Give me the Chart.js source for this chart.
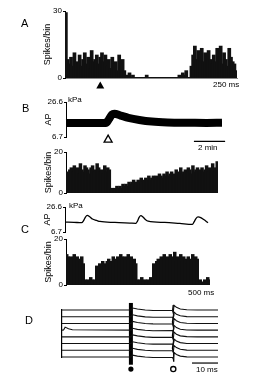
<!DOCTYPE html>
<html><head><meta charset="utf-8">
<script src="https://cdn.jsdelivr.net/npm/chart.js@4/dist/chart.umd.min.js"></script>
<style>
html,body{margin:0;padding:0;background:#fff;}
#wrap{position:relative;width:254px;height:378px;overflow:hidden;font-family:"Liberation Sans",Arial,sans-serif;color:#000;background:#fff;}
canvas{position:absolute;left:0;}
.t{position:absolute;font-size:8px;line-height:1;white-space:nowrap;}
.p{position:absolute;font-size:11px;line-height:1;}
</style></head><body>
<div id="wrap">
<canvas id="cA" width="254" height="95" style="top:0px"></canvas>
<canvas id="cBap" width="254" height="58" style="top:92px"></canvas>
<canvas id="cBh" width="254" height="58" style="top:142px"></canvas>
<canvas id="cCap" width="254" height="42" style="top:197px"></canvas>
<canvas id="cCh" width="254" height="63" style="top:229px"></canvas>
<canvas id="cD" width="254" height="81" style="top:297px"></canvas>
<div class="p" style="left:21px;top:18px">A</div>
<div class="p" style="left:22px;top:103px">B</div>
<div class="p" style="left:21px;top:224px">C</div>
<div class="p" style="left:25px;top:315px">D</div>
<div class="t" style="left:213px;top:81px">250 ms</div>
<div class="t" style="left:68px;top:96px">kPa</div>
<div class="t" style="left:198px;top:144px">2 min</div>
<div class="t" style="left:69px;top:202px">kPa</div>
<div class="t" style="left:188px;top:289px">500 ms</div>
<div class="t" style="left:196px;top:366px">10 ms</div>
</div>
<script>
// ---------- data ----------
// Panel A: spikes per bin (250 ms sweep)
const binsA = [29,8,6,9,5,11,7,6,10,5,8,11,6,9,4,12,7,8,10,6,9,11,7,10,5,8,4,9,6,7,3,10,5,8,3,
  0,1,2,0,1,0,0,0,0,0,
  0,0,1,0,0,0,0,0,0,0,
  0,0,0,0,0,0,0,0,0,0,
  0,1,0,2,1,3,0,0,
  5,10,14,8,12,10,13,7,11,9,12,8,6,10,7,13,9,14,6,11,8,5,13,9,7,6,3];
const ticksA = [0, 30];
const stimBinA = 20;            // filled triangle
// Panel B: arterial pressure (kPa) vs time (min)
const timeB = [0, 1, 2, 2.55, 2.75, 2.95, 3.1, 3.5, 4, 4.7, 5.5, 6.5, 8, 9, 10];
const apB   = [14.6, 14.7, 14.6, 14.6, 16.8, 19.5, 19.9, 18.9, 17.6, 16.4, 15.5, 15.0, 14.8, 14.7, 14.8];
const ticksAP = [6.7, 26.6];
const stimTimeB = 2.7;          // open triangle
const scaleBarB = [8.2, 10.2];  // 2 min
// Panel B: spikes per bin
const binsB = [10,9,11,12,10,13,11,12,9,14,11,10,13,12,11,9,12,13,10,11,14,12,10,11,9,13,10,12,11,
  1,2,1,2,3,2,3,2,4,3,
  4,3,5,4,5,6,4,5,6,5,
  7,5,6,7,6,8,6,7,8,7,
  8,7,9,8,7,9,8,10,8,9,
  10,8,9,11,9,10,12,9,10,11,
  10,12,11,9,13,10,11,12,10,11,
  12,10,11,13,10,12,11,14,10,12,15];
const ticksSpikes = [0, 20];
// Panel C: arterial pressure (kPa) vs time (ms)
const timeC = [0, 90, 167, 185, 205, 223, 245, 275, 317, 350, 500, 650, 710, 725, 743, 760, 782, 805, 833, 1000, 1150, 1277, 1292, 1312, 1333, 1360, 1390, 1433];
const apC   = [14.6, 14.4, 14.1, 15.6, 18.6, 19.9, 19.0, 17.0, 15.9, 15.1, 14.3, 13.8, 13.6, 15.2, 18.4, 19.7, 18.6, 16.7, 15.3, 14.3, 13.5, 12.8, 14.5, 17.4, 18.7, 18.2, 16.6, 14.1];
// Panel C: spikes per bin
const binsC = [13,12,10,12,11,13,10,12,11,10,12,9,
  2,1,2,1,3,2,1,2,
  8,7,9,8,10,9,8,10,11,9,10,12,11,10,12,11,13,12,11,12,10,13,11,12,10,11,9,
  2,1,2,3,1,2,1,2,1,3,2,
  9,8,10,11,9,12,10,13,11,12,10,13,11,12,14,10,12,11,13,10,12,11,9,12,10,11,13,10,12,11,
  1,2,1,1,2,1,3,2];
// Panel D: 8 superimposed sweeps (time in ms, offset trace units)
const timeD = [0, 0.6, 1.2, 2.5, 4, 26.5, 27.2, 29, 32, 35, 42.5, 42.8, 43.1, 44, 45.5, 48, 52, 60];
const sweep1 = [7,7,7,7,7,7,7.3,7.15,7,6.93,6.92,6.7,7.7,7.4,7.15,7.03,7,7];
const sweep2 = [6,6,6,6,6,6,6.28,6.13,5.98,5.92,5.92,5.7,6.68,6.38,6.14,6.02,6,6];
const sweep3 = [5,5,5,5,5,5,5.3,5.14,5,4.93,4.92,4.7,5.72,5.4,5.15,5.03,5,5];
const sweep4 = [4,4.02,4.45,4.2,4.05,4,4.28,4.12,3.98,3.92,3.93,3.7,4.7,4.38,4.13,4.02,4,4];
const sweep5 = [3,3,3,3,3,3,3.3,3.15,3,2.93,2.92,2.7,3.72,3.4,3.15,3.03,3,3];
const sweep6 = [2,2,2,2,2,2,2.27,2.12,1.98,1.92,1.93,1.7,2.68,2.38,2.14,2.02,2,2];
const sweep7 = [1,1,1,1,1,1,1.3,1.14,1,0.93,0.92,0.7,1.7,1.4,1.15,1.03,1,1];
const sweep8 = [0,0,0,0,0,0,0.28,0.13,0,-0.07,-0.07,-0.3,0.65,0.37,0.13,0.02,0,0];
const stim1D = 26.5;   // filled circle
const stim2D = 42.8;   // open circle
const artifactD = [-1.15, 8.05];
const zigTimeD = [42.7, 42.95, 42.5, 42.95, 42.5, 42.95, 42.5, 42.95, 42.6, 42.8];
const zigValD  = [-0.6, 0.6, 1.3, 2.4, 3.2, 4.3, 5.2, 6.3, 7.0, 7.75];
const scaleBarD = [50, 60];  // 10 ms

// ---------- helpers ----------
Chart.defaults.font.family = '"Liberation Sans", Arial, sans-serif';
Chart.defaults.font.size = 8;
Chart.defaults.color = '#000';

const xy = (xs, ys) => xs.map((x, i) => ({ x: x, y: ys[i] }));

function yAx(min, max, ticks, title, w) {
  return {
    type: 'linear', min: min, max: max,
    afterBuildTicks: s => { s.ticks = ticks.map(v => ({ value: v })); },
    afterFit: s => { s.width = w; },
    ticks: { callback: v => String(v), padding: 1, color: '#000', font: { size: 8 }, autoSkip: false, maxRotation: 0 },
    grid: { display: true, drawOnChartArea: false, drawTicks: true, tickLength: 2, color: '#000', lineWidth: 1 },
    border: { display: true, color: '#000', width: 1 },
    title: { display: !!title, text: title, color: '#000', font: { size: 9 }, padding: { top: 4, bottom: 0 } }
  };
}
function baseOpts(pad, scales) {
  return {
    responsive: false, animation: false, devicePixelRatio: 1, events: [],
    layout: { padding: pad },
    plugins: { legend: { display: false }, tooltip: { enabled: false } },
    scales: scales
  };
}
// marker plugin: draws symbols at data coordinates through the chart scales
function marks(items) {
  return {
    id: 'marks',
    afterDatasetsDraw(chart) {
      const ctx = chart.ctx;
      items.forEach(m => {
        const x = chart.scales.x.getPixelForValue(m.x);
        const y = chart.scales.y.getPixelForValue(m.y);
        ctx.save();
        ctx.beginPath();
        if (m.shape === 'triangle') {
          ctx.moveTo(x, y - m.r);
          ctx.lineTo(x + m.r, y + m.r * 0.75);
          ctx.lineTo(x - m.r, y + m.r * 0.75);
          ctx.closePath();
        } else {
          ctx.arc(x, y, m.r, 0, Math.PI * 2);
        }
        if (m.filled) { ctx.fillStyle = '#000'; ctx.fill(); }
        else { ctx.fillStyle = '#fff'; ctx.fill(); ctx.lineWidth = 1.3; ctx.strokeStyle = '#000'; ctx.stroke(); }
        ctx.restore();
      });
    }
  };
}
function hist(id, bins, ymax, ticks, pad, showBase, mk) {
  return new Chart(document.getElementById(id), {
    type: 'bar',
    data: { labels: bins.map((_, i) => i), datasets: [{ data: bins, backgroundColor: '#111', borderWidth: 0, inflateAmount: 1, barPercentage: 1, categoryPercentage: 1 }] },
    options: baseOpts(pad, {
      x: { display: showBase, grid: { display: false }, ticks: { display: false }, border: { display: true, color: '#888', width: 1 }, afterFit: s => { s.height = 0; } },
      y: yAx(0, ymax, ticks, 'Spikes/bin', 27)
    }),
    plugins: mk ? [mk] : []
  });
}
const lineDs = (data, w, extra) => Object.assign({ data: data, borderColor: '#000', borderWidth: w, pointRadius: 0, fill: false, clip: false, tension: 0 }, extra || {});

// ---------- Panel A ----------
hist('cA', binsA, 30, ticksA, { left: 38, right: 17, top: 11, bottom: 17 }, true,
  marks([{ x: stimBinA, y: -3.4, shape: 'triangle', r: 4, filled: true }]));

// ---------- Panel B ----------
new Chart(document.getElementById('cBap'), {
  type: 'line',
  data: { datasets: [
    lineDs(xy(timeB, apB), 8, { cubicInterpolationMode: 'monotone', borderJoinStyle: 'round' }),
    lineDs(xy(scaleBarB, [4.2, 4.2]), 1.2)
  ] },
  options: baseOpts({ left: 39, right: 32, top: 10, bottom: 13 }, {
    x: { type: 'linear', display: false, min: 0, max: 10 },
    y: yAx(ticksAP[0], ticksAP[1], ticksAP, 'AP', 27)
  }),
  plugins: [marks([{ x: stimTimeB, y: 5.5, shape: 'triangle', r: 4, filled: false }])]
});
hist('cBh', binsB, 20, ticksSpikes, { left: 39, right: 36, top: 10, bottom: 7 }, false, null);

// ---------- Panel C ----------
new Chart(document.getElementById('cCap'), {
  type: 'line',
  data: { datasets: [ lineDs(xy(timeC, apC), 1.3, { cubicInterpolationMode: 'monotone' }) ] },
  options: baseOpts({ left: 38, right: 46, top: 10, bottom: 7 }, {
    x: { type: 'linear', display: false, min: 0, max: 1433 },
    y: yAx(ticksAP[0], ticksAP[1], ticksAP, 'AP', 27)
  })
});
hist('cCh', binsC, 20, ticksSpikes, { left: 39, right: 44, top: 10, bottom: 7 }, false, null);

// ---------- Panel D ----------
const sweeps = [sweep1, sweep2, sweep3, sweep4, sweep5, sweep6, sweep7, sweep8];
new Chart(document.getElementById('cD'), {
  type: 'line',
  data: { datasets: sweeps.map(s => lineDs(xy(timeD, s), 1.1, { borderColor: '#111' })).concat([
    lineDs(xy([stim1D, stim1D], artifactD), 4, { borderCapStyle: 'butt' }),
    lineDs(xy(zigTimeD, zigValD), 1.4),
    lineDs(xy(scaleBarD, [-0.9, -0.9]), 1.2)
  ]) },
  options: baseOpts({ left: 62, right: 36, top: 13, bottom: 21 }, {
    x: { type: 'linear', display: false, min: 0, max: 60 },
    y: { type: 'linear', min: 0, max: 7, ticks: { display: false }, grid: { display: false },
         border: { display: true, color: '#000', width: 1.2 }, afterFit: s => { s.width = 0; } }
  }),
  plugins: [marks([
    { x: stim1D, y: -1.8, shape: 'circle', r: 2.6, filled: true },
    { x: stim2D, y: -1.8, shape: 'circle', r: 2.6, filled: false }
  ])]
});
</script>
</body></html>
